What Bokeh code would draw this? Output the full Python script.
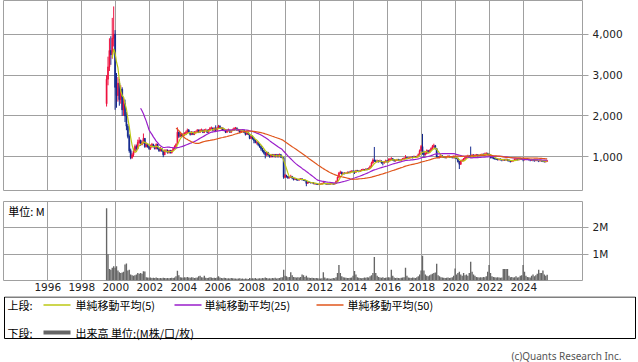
import numpy as np
import pandas as pd
from bokeh.plotting import figure
from bokeh.layouts import column
from bokeh.models import (Range1d, FixedTicker, Grid, Label, ColumnDataSource,
                          NumeralTickFormatter, CustomJSTickFormatter)
from bokeh.core.properties import value
from bokeh.embed import file_html
from bokeh.resources import INLINE

# ---------------- data (monthly, from Jun 1999) ----------------
first_month = "1999-06"
first_open = 2300

close = [
    2900, 3200, 3600, 3500, 3900, 4000, 2700,                              # 1999
    2500, 2800, 2400, 2650, 2150, 2300, 2000, 1750, 1500, 1150, 980, 1050,  # 2000
    1150, 1250, 1200, 1350, 1400, 1300, 1350, 1450, 1250, 1300, 1250, 1200,  # 2001
    1250, 1300, 1250, 1200, 1300, 1200, 1150, 1200, 1150, 1050, 1150, 1150,  # 2002
    1100, 1150, 1100, 1150, 1200, 1250, 1300, 1600, 1500, 1550, 1500, 1550,  # 2003
    1550, 1600, 1650, 1600, 1550, 1600, 1550, 1600, 1600, 1650, 1600, 1650,  # 2004
    1650, 1600, 1650, 1650, 1600, 1650, 1700, 1700, 1650, 1700, 1650, 1700,  # 2005
    1750, 1700, 1700, 1650, 1650, 1600, 1650, 1650, 1600, 1650, 1650, 1700,  # 2006
    1700, 1650, 1650, 1600, 1650, 1650, 1600, 1550, 1600, 1550, 1450, 1500,  # 2007
    1450, 1400, 1350, 1350, 1300, 1250, 1200, 1150, 1100, 1050, 1100, 1050,  # 2008
    1000, 1050, 1000, 1050, 1000, 1050, 1000, 1050, 1000, 980, 500, 540,     # 2009
    520, 480, 500, 520, 480, 450, 460, 440, 430, 450, 460, 440,              # 2010
    430, 420, 350, 380, 370, 360, 370, 340, 340, 330, 320, 330,              # 2011
    330, 350, 360, 350, 330, 340, 330, 340, 340, 330, 350, 400,              # 2012
    500, 600, 620, 580, 600, 590, 600, 620, 610, 640, 650, 640,              # 2013
    620, 660, 650, 640, 660, 680, 690, 680, 700, 690, 720, 760,              # 2014
    850, 920, 900, 880, 900, 880, 900, 860, 850, 880, 900, 880,              # 2015
    920, 940, 950, 930, 900, 910, 930, 920, 910, 930, 950, 960,              # 2016
    980, 960, 970, 980, 990, 980, 1000, 990, 1000, 1050, 1150, 1250,         # 2017
    1100, 1050, 1080, 1150, 1100, 1150, 1200, 1250, 1270, 1200, 1000, 980,   # 2018
    1000, 1020, 1000, 990, 980, 1000, 1010, 990, 1000, 980, 1000, 980,       # 2019
    960, 880, 820, 900, 920, 950, 980, 1000, 1020, 1000, 990, 1040,          # 2020
    1020, 1040, 1050, 1030, 1040, 1050, 1060, 1050, 1070, 1080, 1060, 1050,  # 2021
    1000, 980, 960, 950, 940, 930, 940, 930, 920, 930, 920, 930,             # 2022
    920, 900, 890, 900, 910, 930, 940, 930, 940, 950, 940, 930,              # 2023
    940, 950, 940, 930, 920, 930, 920, 910, 920, 910, 900, 910,              # 2024
    900, 890, 880, 890, 900,                                                 # 2025
]

high = [
    3000, 3450, 3900, 3950, 4400, 4680, 4100,
    3050, 2950, 2900, 2750, 2700, 2450, 2400, 2100, 1800, 1550, 1200, 1100,
    1200, 1300, 1300, 1420, 1480, 1420, 1400, 1570, 1460, 1350, 1320, 1280,
    1300, 1340, 1320, 1280, 1330, 1320, 1230, 1240, 1210, 1170, 1180, 1190,
    1180, 1170, 1170, 1170, 1230, 1280, 1330, 1720, 1620, 1600, 1580, 1580,
    1600, 1640, 1690, 1680, 1620, 1630, 1620, 1630, 1640, 1680, 1670, 1680,
    1690, 1670, 1680, 1690, 1670, 1680, 1730, 1740, 1720, 1720, 1770, 1730,
    1780, 1770, 1730, 1720, 1690, 1670, 1680, 1690, 1670, 1670, 1690, 1720,
    1730, 1720, 1680, 1670, 1670, 1680, 1670, 1610, 1620, 1610, 1560, 1510,
    1520, 1470, 1420, 1390, 1370, 1320, 1270, 1220, 1170, 1120, 1130, 1120,
    1070, 1070, 1070, 1070, 1070, 1070, 1070, 1080, 1070, 1020, 990, 580,
    560, 530, 520, 560, 530, 490, 480, 470, 450, 470, 480, 470,
    450, 440, 430, 390, 390, 380, 380, 375, 355, 350, 340, 340,
    345, 360, 380, 370, 355, 350, 345, 350, 350, 345, 360, 420,
    520, 630, 660, 640, 620, 620, 620, 640, 640, 660, 670, 670,
    660, 680, 680, 670, 680, 700, 710, 700, 720, 720, 740, 790,
    880, 960, 1240, 930, 930, 920, 930, 910, 880, 900, 930, 920,
    960, 970, 990, 970, 940, 930, 950, 950, 940, 950, 970, 990,
    1040, 1000, 990, 1000, 1010, 1010, 1030, 1020, 1030, 1080, 1180, 1290,
    1560, 1150, 1110, 1180, 1170, 1180, 1230, 1290, 1320, 1290, 1210, 1020,
    1030, 1050, 1040, 1020, 1010, 1020, 1040, 1030, 1020, 1010, 1030, 1020,
    1000, 980, 900, 920, 940, 970, 1000, 1030, 1050, 1040, 1250, 1070,
    1060, 1060, 1070, 1060, 1060, 1070, 1080, 1080, 1100, 1110, 1100, 1080,
    1060, 1020, 1000, 980, 970, 960, 960, 960, 950, 950, 950, 960,
    950, 940, 920, 920, 930, 950, 960, 960, 960, 970, 970, 980,
    970, 970, 960, 950, 940, 950, 940, 930, 940, 930, 920, 930,
    920, 910, 900, 910, 920,
]

low = [
    2230, 2750, 3100, 3250, 3400, 3700, 2150,
    2200, 2350, 2250, 2300, 2000, 2000, 1850, 1650, 1450, 1100, 940, 950,
    1000, 1100, 1150, 1180, 1320, 1270, 1280, 1320, 1220, 1230, 1220, 1170,
    1170, 1220, 1230, 1180, 1180, 1180, 1120, 1130, 1120, 990, 1040, 1110,
    1080, 1080, 1080, 1080, 1140, 1180, 1230, 1290, 1460, 1480, 1470, 1480,
    1510, 1530, 1580, 1580, 1520, 1530, 1530, 1530, 1570, 1580, 1580, 1590,
    1620, 1580, 1580, 1620, 1580, 1590, 1640, 1670, 1620, 1640, 1630, 1640,
    1680, 1690, 1660, 1630, 1620, 1580, 1590, 1620, 1590, 1590, 1630, 1640,
    1660, 1640, 1620, 1580, 1590, 1620, 1580, 1520, 1540, 1530, 1430, 1440,
    1420, 1330, 1330, 1300, 1260, 1220, 1150, 1110, 1060, 960, 1020, 1020,
    980, 980, 990, 990, 980, 990, 980, 990, 970, 960, 460, 480,
    490, 460, 470, 480, 450, 420, 430, 420, 410, 420, 440, 420,
    410, 400, 280, 340, 360, 350, 350, 330, 320, 320, 310, 310,
    315, 320, 340, 335, 320, 320, 320, 325, 330, 320, 325, 345,
    390, 480, 580, 560, 570, 570, 580, 590, 600, 600, 630, 620,
    580, 610, 630, 620, 630, 650, 670, 660, 670, 670, 680, 710,
    740, 830, 870, 860, 860, 860, 870, 830, 790, 830, 860, 860,
    860, 890, 920, 900, 880, 880, 900, 900, 890, 900, 920, 940,
    940, 940, 950, 960, 970, 960, 970, 970, 980, 990, 1040, 1140,
    1050, 1000, 1030, 1060, 1080, 1090, 1140, 1180, 1220, 1180, 980, 960,
    960, 980, 980, 970, 960, 960, 980, 970, 970, 960, 960, 950,
    940, 860, 700, 800, 880, 900, 930, 960, 980, 980, 970, 980,
    1000, 1000, 1020, 1010, 1020, 1030, 1040, 1030, 1040, 1050, 1040, 1020,
    960, 960, 940, 930, 920, 910, 910, 910, 890, 900, 900, 900,
    890, 880, 860, 870, 880, 900, 910, 910, 910, 920, 920, 890,
    910, 920, 920, 910, 890, 900, 890, 880, 890, 890, 870, 880,
    880, 870, 860, 860, 880,
]

volume_m = [
    2.70, 1.00, 0.45, 0.42, 0.50, 0.55, 0.50,
    0.55, 0.40, 0.33, 0.30, 0.32, 0.35, 0.62, 0.66, 0.40, 0.42, 0.25, 0.22,
    0.20, 0.22, 0.25, 0.30, 0.28, 0.30, 0.28, 0.37, 0.36, 0.15, 0.14, 0.13,
    0.14, 0.12, 0.13, 0.12, 0.14, 0.12, 0.11, 0.12, 0.11, 0.13, 0.12, 0.11,
    0.12, 0.11, 0.12, 0.13, 0.12, 0.14, 0.18, 0.39, 0.22, 0.15, 0.14, 0.13,
    0.15, 0.14, 0.16, 0.14, 0.13, 0.15, 0.14, 0.12, 0.13, 0.14, 0.18, 0.20,
    0.15, 0.14, 0.20, 0.13, 0.12, 0.13, 0.15, 0.14, 0.12, 0.13, 0.12, 0.14,
    0.18, 0.14, 0.12, 0.11, 0.13, 0.12, 0.10, 0.11, 0.10, 0.12, 0.11, 0.10,
    0.10, 0.09, 0.10, 0.11, 0.09, 0.10, 0.08, 0.10, 0.09, 0.08, 0.12, 0.10,
    0.11, 0.10, 0.12, 0.09, 0.10, 0.11, 0.10, 0.12, 0.11, 0.14, 0.12, 0.10,
    0.11, 0.10, 0.12, 0.11, 0.13, 0.10, 0.11, 0.12, 0.14, 0.15, 0.42, 0.20,
    0.18, 0.15, 0.16, 0.33, 0.22, 0.16, 0.15, 0.14, 0.15, 0.14, 0.16, 0.25,
    0.22, 0.16, 0.20, 0.14, 0.13, 0.12, 0.13, 0.12, 0.11, 0.12, 0.11, 0.10,
    0.10, 0.11, 0.33, 0.14, 0.10, 0.11, 0.10, 0.09, 0.10, 0.12, 0.11, 0.15,
    0.30, 0.60, 0.30, 0.18, 0.15, 0.14, 0.13, 0.12, 0.12, 0.13, 0.14, 0.20,
    0.38, 0.25, 0.15, 0.13, 0.12, 0.11, 0.12, 0.14, 0.13, 0.15, 0.14, 0.18,
    0.22, 0.30, 0.90, 0.30, 0.20, 0.16, 0.14, 0.13, 0.15, 0.12, 0.13, 0.14,
    0.15, 0.14, 0.42, 0.20, 0.14, 0.12, 0.13, 0.12, 0.11, 0.13, 0.14, 0.15,
    0.50, 0.20, 0.14, 0.13, 0.12, 0.14, 0.13, 0.12, 0.15, 0.18, 0.25, 0.40,
    0.94, 0.40, 0.25, 0.20, 0.18, 0.22, 0.25, 0.28, 0.30, 0.32, 0.65, 0.22,
    0.18, 0.15, 0.14, 0.13, 0.12, 0.13, 0.14, 0.12, 0.13, 0.15, 0.20, 0.47,
    0.25, 0.30, 0.35, 0.25, 0.20, 0.30, 0.22, 0.25, 0.20, 0.30, 0.72, 0.35,
    0.25, 0.20, 0.16, 0.15, 0.14, 0.15, 0.14, 0.16, 0.15, 0.18, 0.35, 0.60,
    0.30, 0.18, 0.16, 0.15, 0.14, 0.15, 0.14, 0.13, 0.14, 0.45, 0.45, 0.45,
    0.45, 0.20, 0.15, 0.16, 0.14, 0.15, 0.18, 0.14, 0.15, 0.20, 0.22, 0.60,
    0.35, 0.20, 0.16, 0.15, 0.14, 0.20, 0.25, 0.18, 0.22, 0.28, 0.42, 0.30,
    0.30, 0.40, 0.25, 0.20, 0.24,
]

year_ticks = list(range(1996, 2025, 2))
price_ticks = [1000, 2000, 3000, 4000]
vol_ticks = [1_000_000, 2_000_000]
ma_periods = [5, 25, 50]
ma_labels = ["単純移動平均(5)", "単純移動平均(25)", "単純移動平均(50)"]

# ---------------- styling ----------------
UP = "#ee1240"
DOWN = "#13288e"
MA_COLORS = ["#bcc814", "#9a1ecb", "#e0561c"]
VOL_COLOR = "#666666"
GRID = "#a0a0a0"
TXT = "#222222"
NUM_FONT = "DejaVu Sans"
JP_FONT = "Noto Sans CJK JP"

W = 638
X0 = 1993.394
X1 = X0 + 579 / 17.0

# ---------------- derived ----------------
n = min(len(close), len(high), len(low), len(volume_m))
close_a = np.array(close[:n], dtype=float)
open_a = np.array([first_open] + close[:n - 1], dtype=float)
high_a = np.array(high[:n], dtype=float)
low_a = np.array(low[:n], dtype=float)
vol_a = np.array(volume_m[:n], dtype=float) * 1e6
dates = pd.date_range(first_month, periods=n, freq="MS")
xs = np.asarray(dates.year + (dates.month - 0.5) / 12.0, dtype=float)
up = close_a >= open_a
colors = [UP if u else DOWN for u in up]

src = ColumnDataSource(dict(
    x=xs, open=open_a, close=close_a, high=high_a, low=low_a,
    top=np.maximum(open_a, close_a), bottom=np.minimum(open_a, close_a),
    color=colors, vol=vol_a,
))


def strip_grids(p):
    p.center = [r for r in p.center if not isinstance(r, Grid)]


def add_grid(p, dim, ticks):
    p.add_layout(Grid(dimension=dim, ticker=FixedTicker(ticks=ticks),
                      grid_line_color=GRID, grid_line_width=1), "center")


def style_right_axis(ax, ticks):
    ax.ticker = FixedTicker(ticks=ticks)
    ax.axis_line_color = None
    ax.major_tick_line_color = GRID
    ax.major_tick_out = 6
    ax.major_tick_in = 0
    ax.minor_tick_line_color = None
    ax.major_label_standoff = 4
    ax.axis_label_standoff = 0
    ax.major_label_text_font = NUM_FONT
    ax.major_label_text_font_size = "10.5px"
    ax.major_label_text_color = TXT


# ---------------- price panel ----------------
p1 = figure(width=W, height=201, x_range=Range1d(X0, X1), y_range=Range1d(175, 4825),
            output_backend="svg", toolbar_location=None,
            x_axis_location=None, y_axis_location="right",
            min_border_left=3, min_border_right=56, min_border_top=0, min_border_bottom=11)
strip_grids(p1)
add_grid(p1, 0, year_ticks)
add_grid(p1, 1, price_ticks)
p1.outline_line_color = GRID
style_right_axis(p1.yaxis[0], price_ticks)
p1.yaxis[0].formatter = NumeralTickFormatter(format="0,0")

p1.segment(x0="x", y0="low", x1="x", y1="high", color="color", line_width=1, source=src)
p1.vbar(x="x", width=0.06, top="top", bottom="bottom", fill_color="color",
        line_color="color", line_width=0.6, source=src)

for per, col in zip(ma_periods, MA_COLORS):
    ma = pd.Series(close_a).rolling(per).mean().to_numpy()
    ok = ~np.isnan(ma)
    p1.line(xs[ok], ma[ok], line_color=col, line_width=1.2)

# ---------------- volume panel ----------------
p2 = figure(width=W, height=95, x_range=p1.x_range, y_range=Range1d(0.026e6, 2.952e6),
            output_backend="svg", toolbar_location=None,
            x_axis_location="below", y_axis_location="right",
            min_border_left=3, min_border_right=56, min_border_top=0, min_border_bottom=16)
strip_grids(p2)
add_grid(p2, 0, year_ticks)
add_grid(p2, 1, vol_ticks)
p2.outline_line_color = GRID
style_right_axis(p2.yaxis[0], vol_ticks)
p2.yaxis[0].formatter = CustomJSTickFormatter(code="return Math.round(tick/1e6) + 'M';")

xa = p2.xaxis[0]
xa.ticker = FixedTicker(ticks=year_ticks)
xa.axis_line_color = None
xa.major_tick_line_color = None
xa.major_tick_out = 0
xa.minor_tick_line_color = None
xa.major_label_standoff = 2
xa.axis_label_standoff = 0
xa.major_label_text_font = NUM_FONT
xa.major_label_text_font_size = "10.5px"
xa.major_label_text_color = TXT

p2.vbar(x="x", width=0.08, top="vol", bottom=0, fill_color=VOL_COLOR,
        line_color=None, source=src)
p2.add_layout(Label(x=X0 + 4.7 / 17, y=2.6e6, text="単位: M", text_font=JP_FONT,
                    text_font_size="11px", text_color="#000000", text_baseline="middle"))

# ---------------- legend / footer panel (separate root, full width) ----------------
H3 = 66
p3 = figure(width=W, height=H3, x_range=Range1d(0, W), y_range=Range1d(0, H3),
            output_backend="svg", toolbar_location=None,
            x_axis_location=None, y_axis_location=None, min_border=0)
strip_grids(p3)
p3.outline_line_color = None

p3.quad(left=4, right=635, bottom=H3 - 42, top=H3 - 0.5, fill_color=None,
        line_color="#000000", line_width=1)
row1 = H3 - 8.5
row2 = H3 - 36

line_x = [(43, 70), (174, 201), (316, 343)]
text_x = [75, 204, 347]
for (a, b), col in zip(line_x, MA_COLORS):
    p3.line([a, b], [row1, row1], line_color=col, line_width=1.3)
p3.line([43, 70], [row2, row2], line_color=VOL_COLOR, line_width=4)

leg_src = ColumnDataSource(dict(
    x=[7] + text_x + [7, 75],
    y=[row1, row1, row1, row1, row2, row2],
    t=["上段:"] + ma_labels + ["下段:", "出来高 単位:(M株/口/枚)"],
))
p3.text(x="x", y="y", text="t", source=leg_src, text_font=value(JP_FONT),
        text_font_size="11px", text_color="#000000", text_baseline="middle", text_align="left")
p3.text(x=[621], y=[6.5], text=["(c)Quants Research Inc."], text_font=value("Noto Sans"),
        text_font_size="10px", text_color="#555555", text_baseline="middle", text_align="right")

layout = column(p1, p2, spacing=0)
open("out.html", "w").write(file_html([layout, p3], INLINE))
